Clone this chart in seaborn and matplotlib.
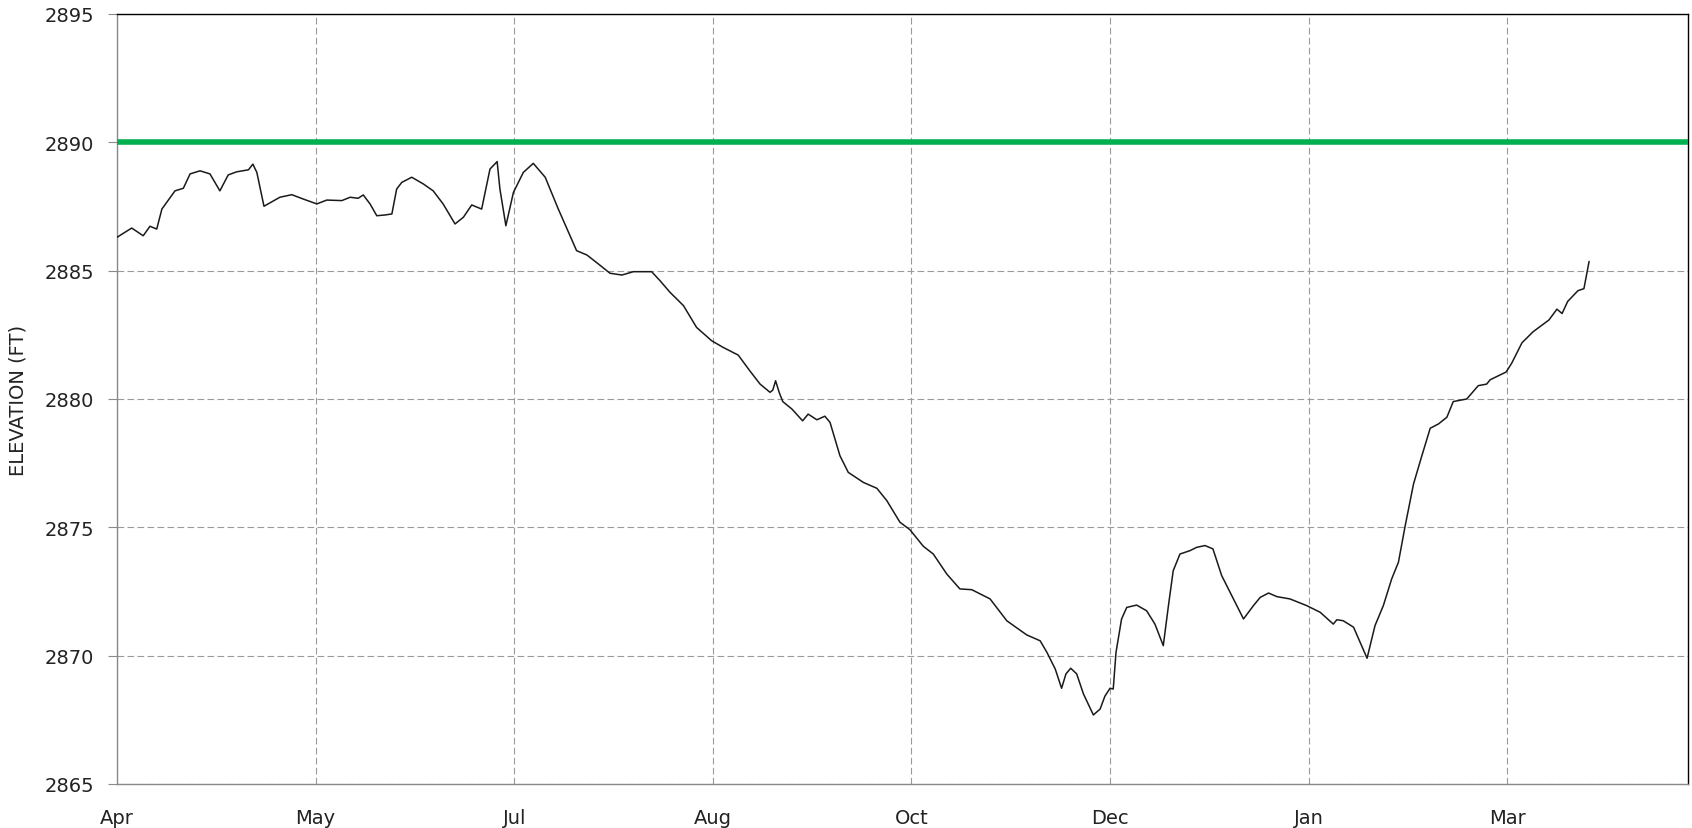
import matplotlib
matplotlib.use("Agg")
import matplotlib.pyplot as plt
import pandas as pd
import seaborn as sns
import numpy as np

# Data (days since the first tick, elevation in ft)
days = [0, 3.7, 6.6, 8.3, 10.0, 11.3, 14.6, 16.7, 18.4, 20.9, 23.4, 25.9, 28.0, 30.1,
        33.1, 34.2, 35.2, 37.0, 41.0, 44.0, 46.9, 50.3, 52.8, 56.6, 58.7, 60.7, 62.0,
        63.7, 65.4, 67.5, 69.2, 70.4, 71.7, 74.2, 77.1, 79.6, 82.1, 85.1, 87.2, 89.3,
        91.8, 93.9, 95.7, 96.4, 97.9, 99.8, 102.3, 104.8, 107.8, 111.1, 115.7, 118.3,
        121.2, 124.1, 127.1, 130.0, 134.6, 136.7, 139.2, 142.6, 145.9, 149.7, 152.6,
        156.4, 159.3, 161.9, 164.4, 165.1, 165.8, 166.7, 167.6, 169.9, 172.6, 174.0,
        176.2, 178.2, 179.5, 182.0, 184.1, 187.9, 191.3, 193.8, 197.1, 199.6, 203.0,
        205.5, 208.9, 212.2, 215.2, 219.8, 224.0, 229.0, 232.4, 234.1, 236.2, 237.8,
        238.9, 240.1, 241.6, 243.3, 245.8, 247.5, 248.7, 250.0, 250.8, 251.5, 252.9,
        254.2, 256.7, 259.2, 261.3, 263.4, 264.7, 265.9, 267.6, 270.1, 271.8, 273.9,
        275.9, 278.1, 279.8, 283.6, 286.1, 287.8, 289.9, 292.0, 295.3, 299.5, 302.9,
        306.2, 307.1, 308.7, 311.3, 314.7, 316.7, 318.8, 320.9, 322.6, 324.3, 326.4,
        328.5, 330.6, 332.7, 334.8, 336.4, 339.8, 342.7, 344.8, 345.7, 349.7, 351.1,
        353.7, 356.5, 360.5, 362.5, 363.8, 365.2, 367.8, 369.3, 370.6]
elevation = [2886.30, 2886.66, 2886.36, 2886.73, 2886.62, 2887.40, 2888.11, 2888.21,
             2888.77, 2888.89, 2888.77, 2888.11, 2888.73, 2888.85, 2888.93, 2889.15,
             2888.83, 2887.51, 2887.86, 2887.96, 2887.79, 2887.60, 2887.75, 2887.73,
             2887.86, 2887.82, 2887.95, 2887.60, 2887.14, 2887.17, 2887.21, 2888.18,
             2888.44, 2888.64, 2888.38, 2888.11, 2887.60, 2886.82, 2887.08, 2887.56,
             2887.40, 2888.96, 2889.25, 2888.18, 2886.75, 2888.05, 2888.83, 2889.18,
             2888.64, 2887.40, 2885.78, 2885.61, 2885.26, 2884.90, 2884.83, 2884.96,
             2884.96, 2884.61, 2884.16, 2883.64, 2882.79, 2882.27, 2882.01, 2881.71,
             2881.10, 2880.58, 2880.26, 2880.35, 2880.71, 2880.26, 2879.90, 2879.61,
             2879.15, 2879.41, 2879.19, 2879.33, 2879.09, 2877.79, 2877.14, 2876.75,
             2876.52, 2876.04, 2875.20, 2874.91, 2874.26, 2873.96, 2873.18, 2872.60,
             2872.57, 2872.21, 2871.36, 2870.81, 2870.58, 2870.13, 2869.48, 2868.73,
             2869.29, 2869.51, 2869.29, 2868.51, 2867.69, 2867.92, 2868.42, 2868.73,
             2868.70, 2870.13, 2871.43, 2871.88, 2871.97, 2871.75, 2871.23, 2870.39,
             2871.95, 2873.31, 2873.96, 2874.09, 2874.22, 2874.29, 2874.16, 2873.12,
             2872.60, 2871.43, 2871.95, 2872.27, 2872.44, 2872.30, 2872.21, 2871.95,
             2871.69, 2871.23, 2871.40, 2871.36, 2871.11, 2869.90, 2871.17, 2871.95,
             2872.99, 2873.64, 2875.06, 2876.69, 2877.79, 2878.86, 2879.03, 2879.29,
             2879.90, 2880.00, 2880.52, 2880.58, 2880.75, 2881.05, 2881.39, 2882.19,
             2882.62, 2883.08, 2883.50, 2883.33, 2883.80, 2884.22, 2884.30, 2885.36]
full_pool = 2890
tick_days = [0, 50, 100, 150, 200, 250, 300, 350]
tick_labels = ['Apr', 'May', 'Jul', 'Aug', 'Oct', 'Dec', 'Jan', 'Mar']
y_ticks = [2865, 2870, 2875, 2880, 2885, 2890, 2895]

df = pd.DataFrame({'day': days, 'elevation': elevation})

sns.set_theme(style='white')
plt.rcParams['font.family'] = ['DejaVu Sans']

fig = plt.figure(figsize=(16.92, 8.29), dpi=100)
ax = fig.add_axes([0.06915, 0.05308, 0.92849, 0.92883])

ax.axhline(full_pool, color='#00b050', linewidth=4, zorder=3)
sns.lineplot(data=df, x='day', y='elevation', ax=ax, color='#1a1a1a',
             linewidth=1.1, sort=False, estimator=None, zorder=4,
             solid_joinstyle='round', solid_capstyle='round')

ax.set_xlim(0, 395.5)
ax.set_ylim(2865, 2895)
ax.set_xticks(tick_days)
ax.set_xticklabels(tick_labels)
ax.set_yticks(y_ticks)

ax.grid(True, color='#9a9a9a', linestyle=(0, (6, 3)), linewidth=0.8)
ax.set_axisbelow(True)

for side in ['top', 'right']:
    ax.spines[side].set_color('black')
    ax.spines[side].set_linewidth(1.0)
for side in ['left', 'bottom']:
    ax.spines[side].set_color('#8a8a8a')
    ax.spines[side].set_linewidth(1.0)

ax.tick_params(axis='y', which='major', left=True, length=6.5, width=0.8,
               color='#8a8a8a', pad=10, labelsize=14, labelcolor='#222222')
ax.tick_params(axis='x', which='major', bottom=False, length=0, pad=17,
               labelsize=14, labelcolor='#222222')

ax.set_xlabel('')
ax.set_ylabel('ELEVATION (FT)', fontsize=14, color='#222222', labelpad=12)

fig.savefig('out.png', dpi=100)
